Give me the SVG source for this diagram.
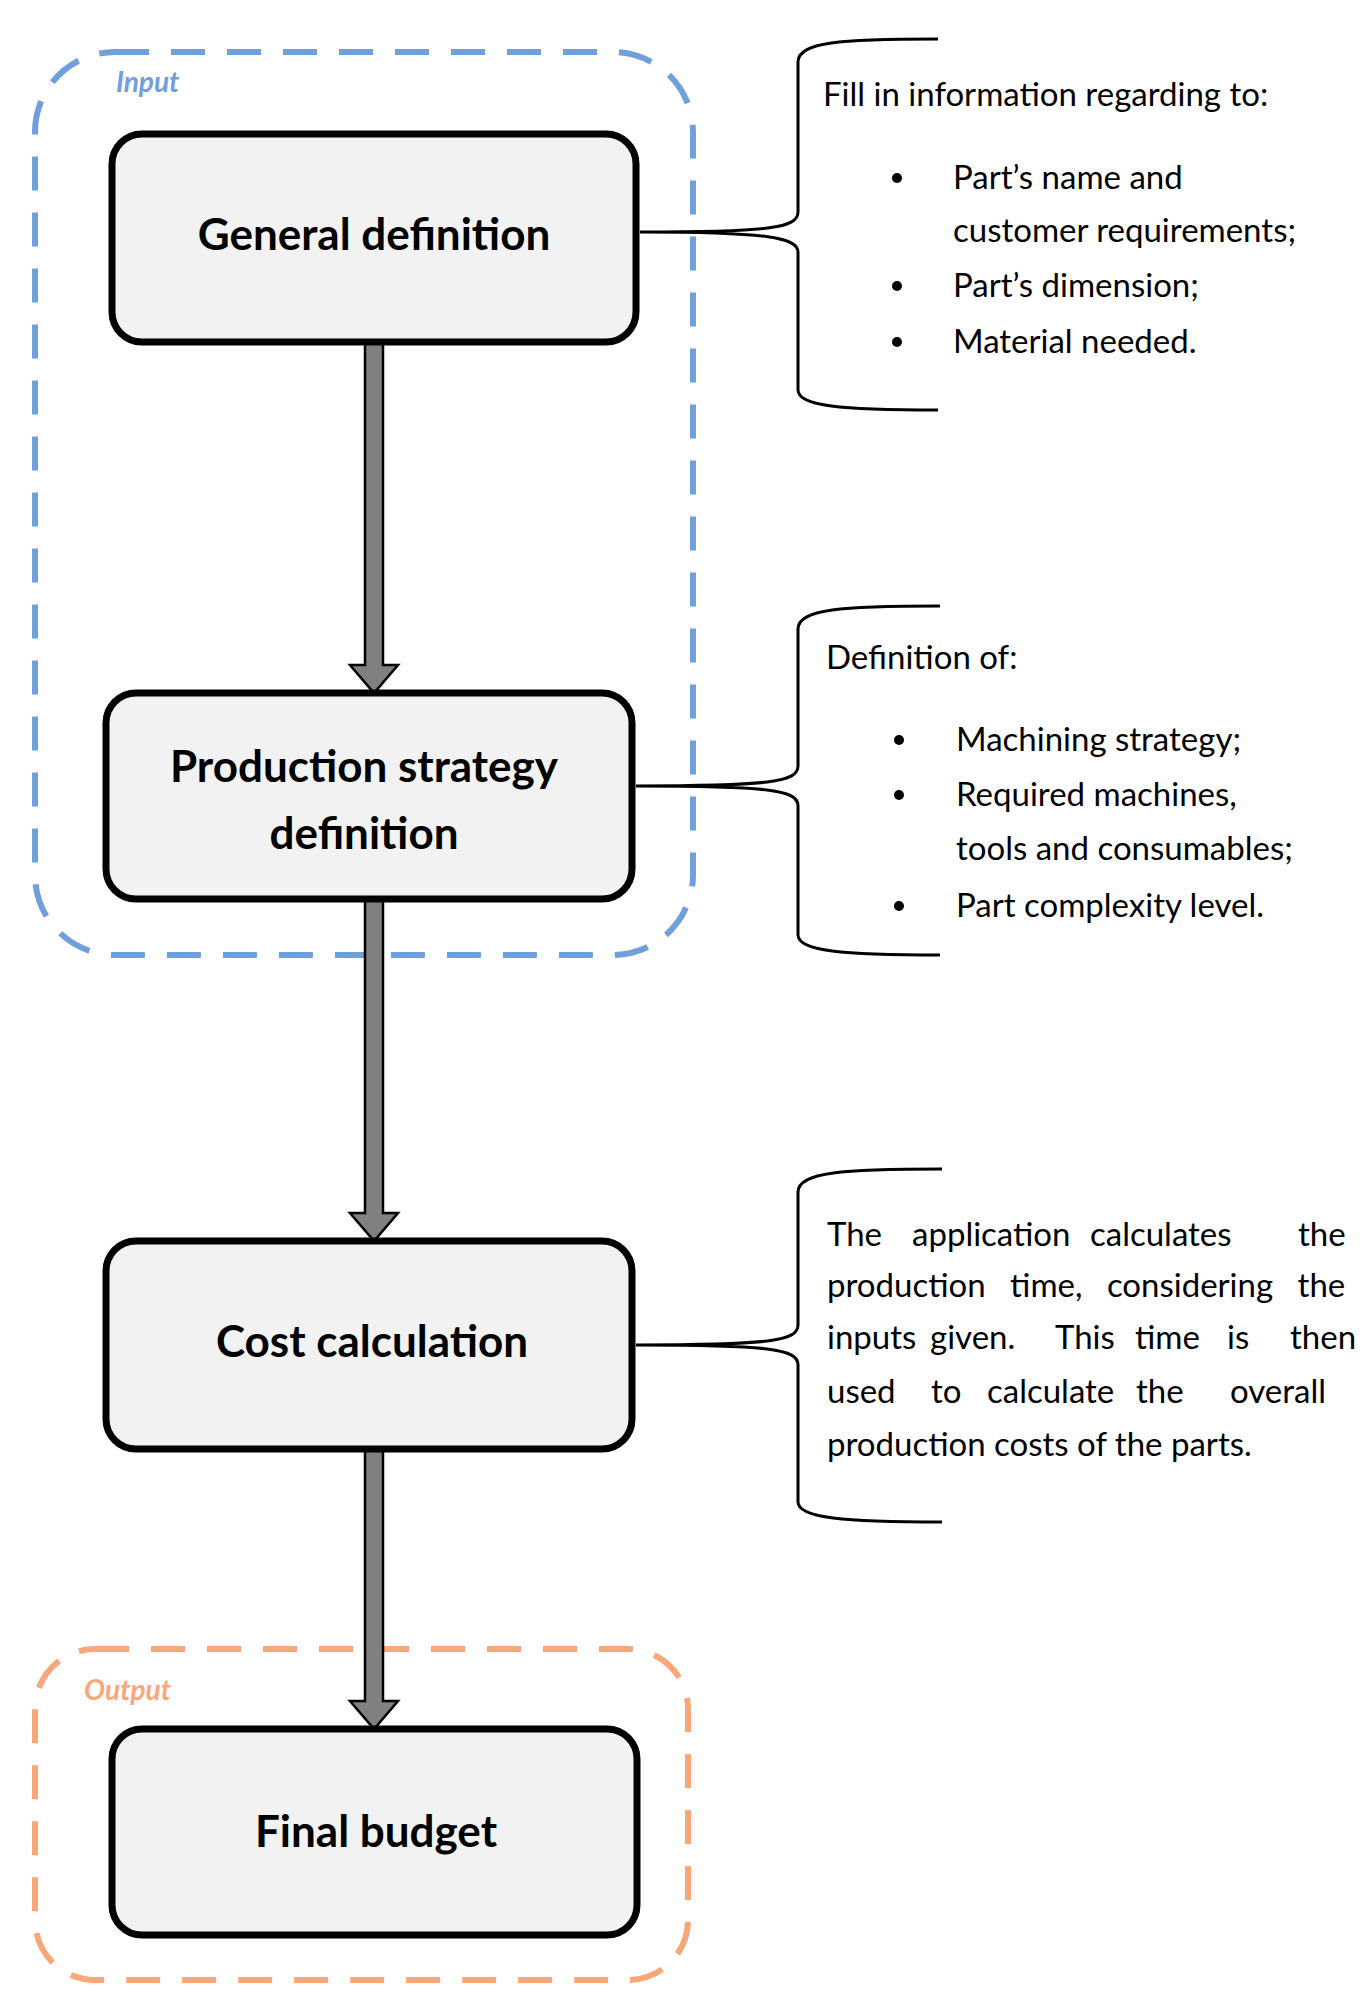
<svg xmlns="http://www.w3.org/2000/svg" width="1371" height="2013" viewBox="0 0 1371 2013">
<style>
.box{fill:#f2f2f2;stroke:#000;stroke-width:7}
.lbl{font-family:Lato,"Open Sans",sans-serif;font-weight:bold;font-size:44px;fill:#000;text-anchor:middle}
.t{font-family:Lato,"Open Sans",sans-serif;font-size:33px;fill:#000}
.br{fill:none;stroke:#000;stroke-width:3}
.arr{fill:#808080;stroke:#000;stroke-width:2.5}
</style>
<rect x="35" y="52" width="658" height="903" rx="80" fill="none" stroke="#6fa0dc" stroke-width="6" stroke-dasharray="34,22"/>
<text x="116" y="92" font-family="Lato,sans-serif" font-style="italic" font-weight="bold" font-size="28" fill="#6fa0dc">Input</text>
<rect x="35" y="1649" width="653" height="331" rx="60" fill="none" stroke="#f8a77a" stroke-width="6" stroke-dasharray="34,22"/>
<text x="84" y="1700" font-family="Lato,sans-serif" font-style="italic" font-weight="bold" font-size="28" fill="#f8a77a">Output</text>
<g id="connectors">
<path class="arr" d="M365,342 H383 V665 H398 L374,693 L350,665 H365 Z"/>
<path class="arr" d="M365,899 H383 V1213 H398 L374,1241 L350,1213 H365 Z"/>
<path class="arr" d="M365,1449 H383 V1701 H398 L374,1729 L350,1701 H365 Z"/>
<path class="br" d="M938,39 C840,39 798,42 798,62 L798,212 C798,228 770,232 640,232 C770,232 798,238 798,252 L798,390 C798,406 840,410 938,410"/>
<path class="br" d="M940,606 C842,606 798,609 798,629 L798,766 C798,782 770,786 636,786 C770,786 798,790 798,806 L798,935 C798,951 842,955 940,955"/>
<path class="br" d="M942,1169 C844,1169 798,1172 798,1192 L798,1325 C798,1341 770,1345 636,1345 C770,1345 798,1349 798,1365 L798,1502 C798,1518 844,1522 942,1522"/>
</g>
<g id="general"><rect class="box" x="112" y="134" width="524" height="208" rx="30"/><text class="lbl" x="374" y="250">General definition</text></g>
<g id="production"><rect class="box" x="106" y="693" width="526" height="206" rx="30"/><text class="lbl" x="364" y="782">Production strategy</text><text class="lbl" x="364" y="849">definition</text></g>
<g id="cost"><rect class="box" x="106" y="1241" width="526" height="208" rx="30"/><text class="lbl" x="372" y="1357">Cost calculation</text></g>
<g id="final"><rect class="box" x="112" y="1729" width="525" height="206" rx="30"/><text class="lbl" x="376" y="1847">Final budget</text></g>
<g id="note1" class="t">
<text x="823" y="106">Fill in information regarding to:</text>
<circle cx="897" cy="178" r="5"/><text x="953" y="189">Part’s name and</text>
<text x="953" y="242">customer requirements;</text>
<circle cx="897" cy="286" r="5"/><text x="953" y="297">Part’s dimension;</text>
<circle cx="897" cy="342" r="5"/><text x="953" y="353">Material needed.</text>
</g>
<g id="note2" class="t">
<text x="826" y="669">Definition of:</text>
<circle cx="899" cy="740" r="5"/><text x="956" y="751">Machining strategy;</text>
<circle cx="899" cy="795" r="5"/><text x="956" y="806">Required machines,</text>
<text x="956" y="860">tools and consumables;</text>
<circle cx="899" cy="906" r="5"/><text x="956" y="917">Part complexity level.</text>
</g>
<g id="note3" class="t">
<text y="1246"><tspan x="827">The</tspan><tspan x="912">application</tspan><tspan x="1090">calculates</tspan><tspan x="1298">the</tspan></text>
<text x="827" y="1297" word-spacing="16">production time, considering the</text>
<text y="1349"><tspan x="827">inputs</tspan><tspan x="930">given.</tspan><tspan x="1055">This</tspan><tspan x="1135">time</tspan><tspan x="1227">is</tspan><tspan x="1290">then</tspan></text>
<text y="1403"><tspan x="827">used</tspan><tspan x="931">to</tspan><tspan x="987">calculate</tspan><tspan x="1136">the</tspan><tspan x="1230">overall</tspan></text>
<text x="827" y="1456">production costs of the parts.</text>
</g>
</svg>
